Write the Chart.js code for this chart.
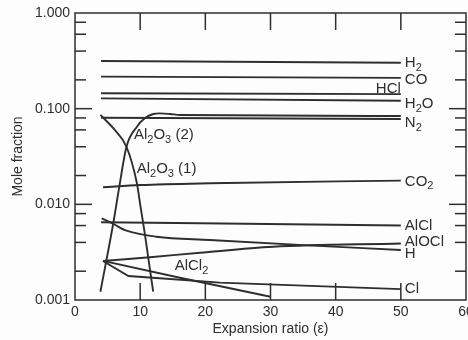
<!DOCTYPE html>
<html>
<head>
<meta charset="utf-8">
<script src="https://cdn.jsdelivr.net/npm/chart.js@4.4.1/dist/chart.umd.min.js"></script>
<style>
  html, body { margin: 0; padding: 0; background: #fff; }
  #wrap { width: 468px; height: 340px; }
</style>
</head>
<body>
<div id="wrap"><canvas id="c" width="468" height="340"></canvas></div>
<script>
// Axis ticks
const xTicks = [0, 10, 20, 30, 40, 50, 60];
const yTicks = [0.001, 0.01, 0.1, 1];
const yMinorTicks = [0.002, 0.004, 0.006, 0.008, 0.02, 0.04, 0.06, 0.08, 0.2, 0.4, 0.6, 0.8];

// Species mole fractions vs. expansion ratio
const epsH2 = [4, 50];            const molH2 = [0.315, 0.302];
const epsCO = [4, 50];            const molCO = [0.216, 0.21];
const epsHCl = [4, 50];           const molHCl = [0.145, 0.142];
const epsH2O = [4, 50];           const molH2O = [0.128, 0.121];
const epsN2 = [4, 50];            const molN2 = [0.0805, 0.078];
const epsCO2 = [4.3, 10, 20.7, 50];
const molCO2 = [0.0151, 0.0159, 0.0166, 0.0177];
const epsAlCl = [4, 19.2, 50];    const molAlCl = [0.0065, 0.00635, 0.0060];
const epsAl2O3b = [3.9, 5.9, 6.8, 7.9, 9.5, 10.7, 12.0, 13.0, 14.6, 16.1, 50];
const molAl2O3b = [0.00122, 0.0065, 0.0153, 0.040, 0.0648, 0.0793, 0.088, 0.0893, 0.088, 0.0859, 0.0838];
const epsAl2O3a = [3.9, 6.1, 7.9, 9.5, 10.0, 10.7, 11.3, 12.0];
const molAl2O3a = [0.086, 0.060, 0.040, 0.0166, 0.0100, 0.0050, 0.0026, 0.00122];
const epsH = [4.1, 5.9, 7.9, 12.5, 20.7, 35, 50];
const molH = [0.00714, 0.00623, 0.0053, 0.00459, 0.00424, 0.00375, 0.00333];
const epsAlOCl = [4.3, 11.5, 19.2, 30.4, 50];
const molAlOCl = [0.00256, 0.0028, 0.00312, 0.0036, 0.0039];
const epsAlCl2 = [4.3, 16.1, 30];
const molAlCl2 = [0.00256, 0.00171, 0.00108];
const epsCl = [4.3, 8.2, 13.0, 22.2, 50];
const molCl = [0.00256, 0.00178, 0.00169, 0.00152, 0.0013];

// Species names ("_" marks a subscript)
const names = ['H_2', 'CO', 'HCl', 'H_2O', 'N_2', 'CO_2', 'AlCl', 'Al_2O_3 (2)', 'Al_2O_3 (1)',
               'H', 'AlOCl', 'AlCl_2', 'Cl'];
const epsAll = [epsH2, epsCO, epsHCl, epsH2O, epsN2, epsCO2, epsAlCl, epsAl2O3b, epsAl2O3a,
                epsH, epsAlOCl, epsAlCl2, epsCl];
const molAll = [molH2, molCO, molHCl, molH2O, molN2, molCO2, molAlCl, molAl2O3b, molAl2O3a,
                molH, molAlOCl, molAlCl2, molCl];

// Where each name is written: at the series end (pixel nudges), or at a fixed spot (eps, mole fraction)
const endLabels = [
  { i: 0, dx: 4, dy: 0 },  { i: 1, dx: 4, dy: 2 },  { i: 2, dx: 0, dy: -5, align: 'right' },
  { i: 3, dx: 4, dy: 3 },  { i: 4, dx: 4, dy: 4 },  { i: 5, dx: 4, dy: 1 },
  { i: 6, dx: 4, dy: 0 },  { i: 9, dx: 4, dy: 3.5 }, { i: 10, dx: 4, dy: -2 },
  { i: 12, dx: 4, dy: 0 }
];
const spotLabels = [
  { i: 7, eps: 9.05, mol: 0.0531 },
  { i: 8, eps: 9.47, mol: 0.0234 },
  { i: 11, eps: 15.3, mol: 0.00227 }
];
const curved = [5, 7, 8, 9, 10];

const INK = '#2e2e2e';
const FONT = '"Liberation Sans", Arial, Helvetica, sans-serif';

const datasets = names.map((n, k) => ({
  label: n.replace(/_/g, ''),
  data: epsAll[k].map((e, j) => ({ x: e, y: molAll[k][j] })),
  borderColor: INK,
  borderWidth: 1.9,
  pointRadius: 0,
  fill: false,
  cubicInterpolationMode: curved.includes(k) ? 'monotone' : 'default',
  tension: 0
}));

function drawChem(ctx, text, x, y, size, align) {
  const parts = [];
  for (let k = 0; k < text.length; k++) {
    if (text[k] === '_' && k + 1 < text.length) { parts.push({ t: text[k + 1], sub: true }); k++; }
    else parts.push({ t: text[k], sub: false });
  }
  const big = size + 'px ' + FONT, small = Math.round(size * 0.72) + 'px ' + FONT;
  let w = 0;
  parts.forEach(p => { ctx.font = p.sub ? small : big; w += ctx.measureText(p.t).width; });
  let cx = align === 'right' ? x - w : x;
  ctx.textAlign = 'left';
  ctx.textBaseline = 'middle';
  parts.forEach(p => {
    ctx.font = p.sub ? small : big;
    ctx.fillText(p.t, cx, p.sub ? y + size * 0.32 : y);
    cx += ctx.measureText(p.t).width;
  });
}

const framePlugin = {
  id: 'frame',
  beforeDraw(chart) {
    const ctx = chart.ctx;
    ctx.save();
    ctx.fillStyle = '#fdfdfd';
    ctx.fillRect(0, 0, chart.width, chart.height);
    ctx.restore();
  },
  afterDraw(chart) {
    const { ctx, chartArea: a, scales: { x, y } } = chart;
    ctx.save();
    ctx.strokeStyle = INK;
    ctx.lineWidth = 1.5;
    ctx.strokeRect(a.left, a.top, a.right - a.left, a.bottom - a.top);
    const seg = (x1, y1, x2, y2) => { ctx.beginPath(); ctx.moveTo(x1, y1); ctx.lineTo(x2, y2); ctx.stroke(); };
    xTicks.forEach(v => {
      if (v <= x.min || v >= x.max) return;
      const px = x.getPixelForValue(v);
      seg(px, a.bottom, px, a.bottom - 17);
      seg(px, a.top, px, a.top + 17);
    });
    yTicks.forEach(v => {
      if (v <= y.min || v >= y.max) return;
      const py = y.getPixelForValue(v);
      seg(a.left, py, a.left + 17, py);
      seg(a.right, py, a.right - 17, py);
    });
    yMinorTicks.forEach(v => {
      const py = y.getPixelForValue(v);
      seg(a.left, py, a.left + 11, py);
      seg(a.right, py, a.right - 11, py);
    });
    ctx.fillStyle = INK;
    endLabels.forEach(l => {
      const e = epsAll[l.i], m = molAll[l.i];
      const px = x.getPixelForValue(e[e.length - 1]) + l.dx;
      const py = y.getPixelForValue(m[m.length - 1]) + l.dy;
      drawChem(ctx, names[l.i], px, py, 15, l.align);
    });
    spotLabels.forEach(l => {
      drawChem(ctx, names[l.i], x.getPixelForValue(l.eps), y.getPixelForValue(l.mol), 15, 'left');
    });
    ctx.restore();
  }
};

new Chart(document.getElementById('c'), {
  type: 'line',
  data: { datasets },
  options: {
    responsive: false,
    devicePixelRatio: 1,
    animation: false,
    layout: { padding: { left: 0, right: 2, top: 13, bottom: 0 } },
    plugins: { legend: { display: false }, tooltip: { enabled: false } },
    scales: {
      x: {
        type: 'linear',
        min: 0, max: 60,
        grid: { display: false, drawTicks: false },
        border: { display: false },
        afterBuildTicks: s => { s.ticks = xTicks.map(v => ({ value: v })); },
        afterFit: s => { s.height = 40; s.paddingLeft = 0; s.paddingRight = 0; },
        ticks: { color: INK, font: { family: FONT, size: 14 }, padding: 4, maxRotation: 0, autoSkip: false },
        title: { display: true, text: 'Expansion ratio (ε)', color: INK,
                 font: { family: FONT, size: 14 }, padding: { top: 0, bottom: 2 } }
      },
      y: {
        type: 'logarithmic',
        min: 0.001, max: 1,
        grid: { display: false, drawTicks: false },
        border: { display: false },
        afterBuildTicks: s => { s.ticks = yTicks.map(v => ({ value: v })); },
        afterFit: s => { s.width = 75; s.paddingTop = 0; s.paddingBottom = 0; },
        ticks: { color: INK, font: { family: FONT, size: 14 }, padding: 5, autoSkip: false,
                 callback: v => Number(v).toFixed(3) },
        title: { display: true, text: 'Mole fraction', color: INK,
                 font: { family: FONT, size: 14 }, padding: { top: 10, bottom: 0 } }
      }
    }
  },
  plugins: [framePlugin]
});
</script>
</body>
</html>
